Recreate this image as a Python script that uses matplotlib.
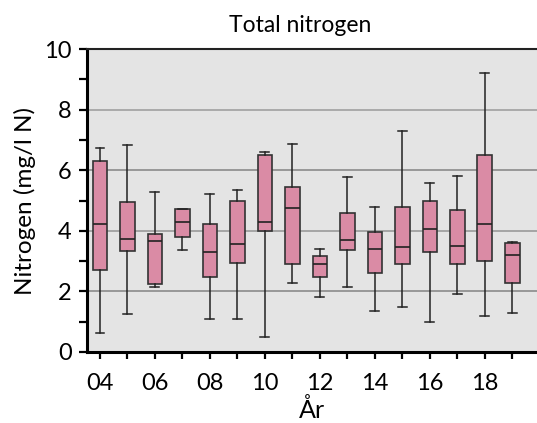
import matplotlib
matplotlib.use("Agg")
import matplotlib.pyplot as plt

plt.rcParams['font.family'] = ['Lato', 'DejaVu Sans']

years = [4, 5, 6, 7, 8, 9, 10, 11, 12, 13, 14, 15, 16, 17, 18, 19]
whislo = [0.63, 1.25, 2.13, 3.38, 1.08, 1.08, 0.49, 2.29, 1.81, 2.14, 1.35, 1.49, 0.98, 1.90, 1.19, 1.29]
q1     = [2.72, 3.32, 2.23, 3.78, 2.49, 2.92, 4.00, 2.89, 2.49, 3.38, 2.59, 2.89, 3.29, 2.89, 3.00, 2.29]
med    = [4.23, 3.74, 3.66, 4.28, 3.29, 3.55, 4.30, 4.74, 2.91, 3.68, 3.40, 3.45, 4.05, 3.50, 4.24, 3.20]
q3     = [6.31, 4.94, 3.89, 4.71, 4.24, 4.99, 6.49, 5.46, 3.18, 4.60, 3.97, 4.80, 4.99, 4.70, 6.49, 3.59]
whishi = [6.73, 6.84, 5.28, 4.71, 5.23, 5.36, 6.60, 6.86, 3.41, 5.77, 4.77, 7.31, 5.59, 5.80, 9.20, 3.62]

stats = []
for i in range(len(years)):
    stats.append(dict(whislo=whislo[i], q1=q1[i], med=med[i], q3=q3[i],
                      whishi=whishi[i], fliers=[]))

fig = plt.figure(figsize=(5.37, 4.23), dpi=100)
ax = fig.add_axes([0.162, 0.168, 0.838, 0.716])
ax.set_facecolor('#E4E4E4')

ax.bxp(stats, positions=years, widths=0.53, patch_artist=True, showfliers=False,
       boxprops=dict(facecolor='#DA8BA5', edgecolor='#333333', linewidth=1.2),
       medianprops=dict(color='#222222', linewidth=1.2),
       whiskerprops=dict(color='#222222', linewidth=1.1),
       capprops=dict(color='#222222', linewidth=1.1),
       capwidths=0.32, zorder=3)

for yv, c in [(2, '#8a8a8a'), (4, '#9a9a9a'), (6, '#8a8a8a'), (8, '#a0a0a0')]:
    ax.axhline(yv, color=c, linewidth=1.2, zorder=1)

ax.set_xlim(3.53, 19.9)
ax.set_ylim(0, 10)
ax.set_yticks(range(0, 11))
ax.set_yticklabels([str(v) if v % 2 == 0 else '' for v in range(0, 11)])
ax.set_xticks(years)
ax.set_xticklabels([('%02d' % y) if y % 2 == 0 else '' for y in years])
ax.tick_params(axis='y', direction='out', length=6, width=1.6, labelsize=17, pad=5, color='black')
ax.tick_params(axis='x', direction='out', length=5, width=1.6, labelsize=17, pad=10, color='black')

for s in ['left', 'bottom']:
    ax.spines[s].set_linewidth(2.2)
    ax.spines[s].set_color('black')
ax.spines['top'].set_linewidth(1.5)
ax.spines['top'].set_color('#222222')
ax.spines['right'].set_visible(False)

ax.set_title('Total nitrogen', fontsize=16.5, pad=12, x=0.474)
ax.set_ylabel('Nitrogen (mg/l N)', fontsize=17.5, labelpad=6)
ax.set_xlabel('År', fontsize=18, labelpad=3)

fig.savefig('out.png', dpi=100)
